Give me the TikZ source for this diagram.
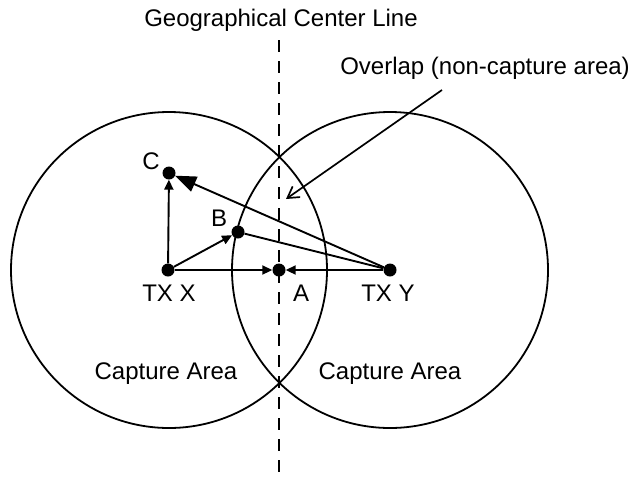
\documentclass[tikz,border=0pt]{standalone}
\usepackage{fontspec}
\setmainfont{Liberation Sans}
\usetikzlibrary{arrows.meta}
\begin{document}
\begin{tikzpicture}[x=1pt,y=-1pt,
  dot/.style={circle,fill=black,inner sep=0pt,minimum size=13pt},
  lbl/.style={inner sep=0pt,font=\fontsize{24}{28}\selectfont},
  ring/.style={line width=1.8pt},
  conn/.style={line width=1.9pt},
  smallarrow/.style={conn,-{Triangle[length=10pt,width=9pt]}},
  bigarrow/.style={conn,-{Triangle[length=21pt,width=16pt]}}]
\useasboundingbox (0,0) rectangle (636,480);
% circles
\coordinate (lc) at (169,270);
\coordinate (rc) at (390,270);
\draw[ring] (lc) circle[radius=158];
\draw[ring] (rc) circle[radius=158];
% center line
\coordinate (ltop) at (279,40);
\coordinate (lbot) at (279,480);
\draw[line width=1.7pt,dash pattern=on 12pt off 9pt] (ltop) -- (lbot);
% points
\node[dot] (txx) at (168,270) {};
\node[dot] (txy) at (390,270) {};
\node[dot] (c) at (169,173) {};
\node[dot] (b) at (238,232) {};
\node[dot] (a) at (279,270) {};
% connectors
\draw[smallarrow] (txx) -- (c);
\draw[smallarrow] (txx) -- (b);
\draw[smallarrow] (txx) -- (a);
\draw[smallarrow] (txy) -- (a);
\draw[bigarrow] (txy) -- (c);
\draw[conn] (txy) -- (b);
% overlap pointer
\coordinate (ostart) at (442,90);
\coordinate (oend) at (286,199);
\draw[line width=1.7pt,-{Straight Barb[length=11pt,width=13pt,line width=1.7pt]}] (ostart) -- (oend);
% labels
\node[lbl] (title) at (281,20) {Geographical Center Line};
\node[lbl] (overlap) at (485,68) {Overlap (non-capture area)};
\node[lbl] (lc-lab) at (151,161) {C};
\node[lbl] (lb-lab) at (219,218) {B};
\node[lbl] (la-lab) at (301,293) {A};
\node[lbl] (ltxx) at (169,293) {TX X};
\node[lbl] (ltxy) at (388,293) {TX Y};
\node[lbl] (capl) at (166,374) {Capture Area};
\node[lbl] (capr) at (390,374) {Capture Area};
\end{tikzpicture}
\end{document}
